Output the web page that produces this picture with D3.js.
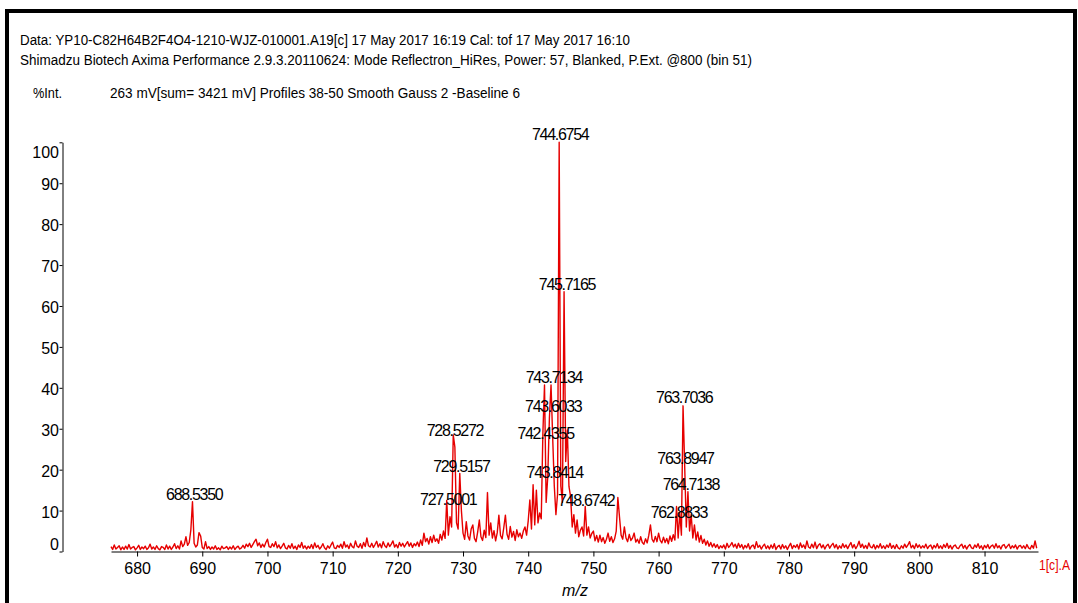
<!DOCTYPE html>
<html>
<head>
<meta charset="utf-8">
<script src="https://cdn.jsdelivr.net/npm/d3@7"></script>
<style>
body { margin: 0; background: #fff; }
svg { display: block; font-family: "Liberation Sans", Arial, sans-serif; }
</style>
</head>
<body>
<svg id="chart" width="1078" height="603"></svg>
<script>
"use strict";

// ==========================
// data
// ==========================
var headerLine1 = "Data: YP10-C82H64B2F4O4-1210-WJZ-010001.A19[c] 17 May 2017 16:19 Cal: tof 17 May 2017 16:10",
    headerLine2 = "Shimadzu Biotech Axima Performance 2.9.3.20110624: Mode Reflectron_HiRes, Power: 57, Blanked, P.Ext. @800 (bin 51)",
    yTitle = "%Int.",
    infoLine = "263 mV[sum= 3421 mV]  Profiles 38-50 Smooth Gauss 2 -Baseline 6",
    xTitle = "m/z",
    traceName = "1[c].A";

var yTicks = [0, 10, 20, 30, 40, 50, 60, 70, 80, 90, 100],
    xTicks = [680, 690, 700, 710, 720, 730, 740, 750, 760, 770, 780, 790, 800, 810];

// spectrum, % intensity every 0.25 m/z starting at 676 (one row = 5 m/z)
var mzStart = 676, mzStep = 0.25;
var intensity = [
  1.2,0.5,1.6,0.6,1.0,1.4,0.4,1.1,0.5,1.3,0.6,1.7,0.6,1.0,1.2,0.4,0.9,1.5,0.5,1.1, // 676
  0.7,1.3,0.5,0.9,1.8,0.6,1.1,0.5,1.4,0.7,0.4,1.2,1.0,0.5,1.6,0.6,1.3,0.5,1.1,1.9, // 681
  0.7,1.4,0.6,2.6,1.2,1.8,3.6,1.5,2.2,5.3,12.2,2.0,1.1,1.6,4.6,3.8,1.0,0.6,2.4,0.7, // 686
  1.2,0.5,1.1,0.6,1.4,0.5,0.9,0.4,1.3,0.7,0.9,1.2,0.5,1.1,0.6,1.4,0.5,1.0,1.3,0.6, // 691
  0.9,1.5,0.8,1.8,1.2,2.0,1.0,1.7,2.4,3.0,1.4,2.1,1.0,1.8,1.1,2.2,3.0,1.2,1.0,1.9, // 696
  1.2,2.4,0.9,1.6,0.7,1.3,2.0,0.9,0.6,1.5,0.8,1.9,0.7,1.3,0.5,1.6,1.0,2.2,0.8,1.4, // 701
  0.6,1.3,0.8,1.7,0.7,2.1,1.0,1.5,0.6,1.1,1.9,0.9,0.5,1.4,0.8,1.6,2.3,0.9,0.7,1.5, // 706
  1.0,1.8,0.8,2.4,1.1,1.6,0.7,2.0,1.2,0.9,2.6,1.3,1.0,1.9,0.8,2.2,1.2,3.3,1.4,1.1, // 711
  2.0,1.0,1.7,2.5,1.1,1.9,0.9,2.4,1.4,1.0,2.1,1.2,1.8,2.6,1.1,1.7,0.9,2.2,1.3,2.0, // 716
  1.1,1.8,2.4,1.3,2.1,1.0,1.9,1.4,2.3,1.2,2.8,1.5,4.5,2.4,3.2,1.8,3.6,2.2,4.0,2.5, // 721
  3.1,2.0,4.2,2.8,5.0,3.2,12.5,4.0,8.5,6.0,28.5,25.5,7.0,5.5,19.1,10.0,4.5,3.0,7.3,3.8, // 726
  2.8,5.5,6.5,3.2,2.4,4.8,7.7,3.6,2.7,5.2,3.4,14.4,4.0,7.0,3.3,5.1,2.6,4.6,8.9,3.9, // 731
  3.1,5.8,8.9,4.2,3.0,6.1,3.5,4.9,2.7,5.3,3.6,4.5,3.2,5.0,6.0,4.0,7.5,12.6,5.5,16.3, // 736
  6.5,15.0,7.0,9.4,8.0,28.9,40.7,12.0,18.3,32.6,40.7,28.0,16.0,9.0,14.0,100,16.0,12.0,63.5,22.0, // 741
  29.7,15.9,13.4,6.0,9.0,4.5,7.7,3.6,5.2,6.0,3.8,11.0,4.0,6.0,3.3,4.4,5.0,2.6,3.9,2.3, // 746
  4.0,2.4,3.4,2.0,3.0,4.5,2.5,3.6,2.2,3.1,5.0,13.2,8.5,4.0,3.0,6.0,3.3,2.4,4.2,2.7, // 751
  3.3,4.5,2.3,3.0,2.0,3.6,2.2,1.8,3.1,2.1,4.0,6.5,3.0,2.3,3.7,2.4,4.5,2.7,2.1,3.5, // 756
  2.2,3.2,1.9,3.8,2.5,4.1,2.8,11.0,3.3,9.5,4.0,35.6,21.0,6.0,14.6,5.0,9.0,3.3,6.5,2.8, // 761
  4.8,2.3,3.9,2.0,3.0,1.6,2.6,1.3,2.2,1.1,1.9,1.0,1.7,0.7,1.4,0.9,1.6,0.6,2.0,1.0, // 766
  1.5,2.2,1.1,1.8,0.8,2.0,1.0,1.7,0.6,1.5,0.9,1.9,0.6,1.3,1.6,0.7,2.4,1.0,1.5,0.6, // 771
  1.3,1.8,0.7,1.4,0.6,1.6,0.8,1.9,0.5,1.2,1.5,0.6,1.7,0.8,1.4,0.5,1.3,2.0,0.7,1.5, // 776
  1.0,1.7,0.6,2.1,1.0,1.6,0.7,2.6,1.1,0.8,1.8,0.9,2.3,0.7,1.5,1.9,0.9,1.6,0.6,1.4, // 781
  1.8,0.8,1.5,2.0,0.9,1.7,0.6,1.4,0.8,1.9,1.0,1.6,0.7,1.5,2.2,0.9,1.7,0.7,1.4,2.5, // 786
  1.0,1.8,0.8,1.5,0.7,2.1,1.1,0.9,1.7,0.6,1.5,0.9,1.9,0.8,1.4,0.7,1.6,1.0,2.0,0.8, // 791
  1.5,0.7,1.7,0.9,0.6,1.4,0.8,1.8,1.0,1.6,2.4,0.9,1.5,0.7,1.9,1.0,1.6,0.8,1.4,0.9, // 796
  1.8,0.7,1.3,1.6,0.6,1.5,0.9,1.9,0.8,1.4,0.7,1.7,1.0,2.0,0.8,1.5,0.6,1.3,1.6,0.9, // 801
  0.7,1.4,1.8,0.8,1.5,0.6,1.3,1.7,0.9,0.7,1.6,1.0,1.9,0.8,1.4,0.5,1.5,0.9,1.7,0.7, // 806
  1.3,1.6,0.8,1.9,0.9,1.4,0.6,1.5,1.7,0.8,1.3,1.8,0.7,1.4,0.9,1.6,0.6,1.3,1.5,0.8, // 811
  1.4,0.7,1.7,0.9,0.6,1.5,0.8,2.6,0.8                                                 // 816
];

// labelled peaks: m/z and % intensity of the label anchor
var peakMz  = [688.5350, 727.5001, 728.5272, 729.5157, 742.4355, 743.6033, 743.7134, 743.8414,
               744.6754, 745.7165, 748.6742, 762.8833, 763.7036, 763.8947, 764.7138],
    peakInt = [12.2, 10.9, 27.7, 19.0, 27.1, 33.6, 40.6, 17.4,
               100, 63.5, 10.6, 7.6, 35.7, 21.0, 14.6];

// ==========================
// chart
// ==========================
var svg = d3.select("#chart");

var x = d3.scaleLinear().domain([676, 818.2]).range([111, 1038]),
    y = d3.scaleLinear().domain([0, 100]).range([551.5, 142.3]);

// header texts
svg.append("text").attr("x", 20).attr("y", 45).attr("font-size", 14)
  .attr("textLength", 610).attr("lengthAdjust", "spacingAndGlyphs").text(headerLine1);
svg.append("text").attr("x", 20).attr("y", 65).attr("font-size", 14)
  .attr("textLength", 732).attr("lengthAdjust", "spacingAndGlyphs").text(headerLine2);
svg.append("text").attr("x", 33).attr("y", 98).attr("font-size", 14)
  .attr("textLength", 29).attr("lengthAdjust", "spacingAndGlyphs").text(yTitle);
svg.append("text").attr("x", 110).attr("y", 98).attr("font-size", 14)
  .attr("textLength", 410).attr("lengthAdjust", "spacingAndGlyphs").text(infoLine);

// spectrum trace
var points = intensity.map(function (v, i) { return [mzStart + i * mzStep, v]; });
var line = d3.line().x(function (d) { return x(d[0]); }).y(function (d) { return y(d[1]); });

svg.append("path").datum(points)
  .attr("d", line)
  .attr("fill", "none")
  .attr("stroke", "#e60000")
  .attr("stroke-width", 1.4)
  .attr("stroke-linejoin", "round");

// x axis
var gx = svg.append("g").attr("transform", "translate(0," + y(0) + ")");
gx.call(d3.axisBottom(x).tickValues(d3.range(676, 819, 2)).tickSize(3).tickSizeOuter(0).tickFormat(""));
gx.call(d3.axisBottom(x).tickValues(xTicks).tickSize(5).tickSizeOuter(0).tickPadding(6).tickFormat(d3.format("d")));
gx.selectAll("text").attr("font-size", 16).attr("font-family", "Liberation Sans, Arial, sans-serif").attr("fill", "#000");

// y axis
var gy = svg.append("g").attr("transform", "translate(62.5,0)");
gy.call(d3.axisLeft(y).tickValues(d3.range(0, 101, 2)).tickSize(2).tickSizeOuter(0).tickFormat(""));
gy.call(d3.axisLeft(y).tickValues(yTicks).tickSize(3).tickSizeOuter(0).tickPadding(0.5).tickFormat(d3.format("d")));
gy.selectAll("text")
  .attr("font-size", 16).attr("font-family", "Liberation Sans, Arial, sans-serif").attr("fill", "#000")
  .attr("dy", function (d) { return d == 100 ? 15.6 : d == 0 ? -1.9 : 6.5; });

svg.selectAll(".domain, .tick line").attr("stroke", "#000");

// axis titles
svg.append("text").attr("x", 575).attr("y", 596).attr("font-size", 16)
  .attr("font-style", "italic").attr("text-anchor", "middle").text(xTitle);
svg.append("text").attr("x", 1039).attr("y", 570).attr("font-size", 15)
  .attr("textLength", 31).attr("lengthAdjust", "spacingAndGlyphs")
  .attr("fill", "#e60000").text(traceName);

// peak labels
svg.append("g").selectAll("text").data(peakMz).enter().append("text")
  .attr("x", function (d) { return x(d) + 1.5; })
  .attr("y", function (d, i) { return y(peakInt[i]) - 2; })
  .attr("text-anchor", "middle")
  .attr("font-size", 16)
  .attr("letter-spacing", "-1.3px")
  .text(function (d) { return d.toFixed(4); });

// frame
svg.append("rect").attr("x", 7).attr("y", 11).attr("width", 1068).attr("height", 640)
  .attr("fill", "none").attr("stroke", "#000").attr("stroke-width", 4);
</script>
</body>
</html>
